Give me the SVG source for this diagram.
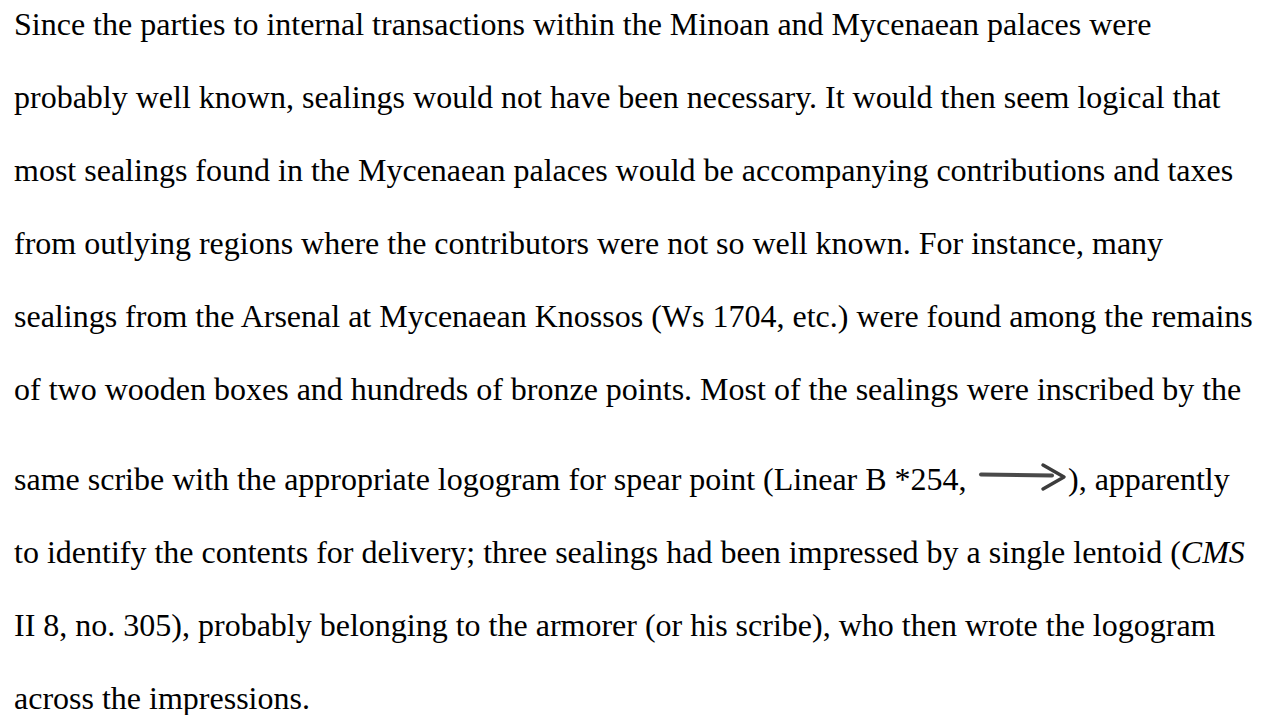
<svg xmlns="http://www.w3.org/2000/svg" width="1266" height="715" viewBox="0 0 1266 715">
<style>
  text { font-family: "Liberation Serif", "Times New Roman", serif; font-size: 32px; fill: #000; }
  .it { font-style: italic; }
  .shaft { fill: none; stroke: #4a4a4a; stroke-width: 4; stroke-linecap: round; }
  .head { fill: none; stroke: #3c3c3c; stroke-width: 3.5; stroke-linecap: round; stroke-linejoin: round; }
</style>
<rect width="1266" height="715" fill="#fff"/>
<g id="paragraph">
  <text x="14" y="35">Since the parties to internal transactions within the Minoan and Mycenaean palaces were</text>
  <text x="14" y="108">probably well known, sealings would not have been necessary. It would then seem logical that</text>
  <text x="14" y="181">most sealings found in the Mycenaean palaces would be accompanying contributions and taxes</text>
  <text x="14" y="254">from outlying regions where the contributors were not so well known. For instance, many</text>
  <text x="14" y="327">sealings from the Arsenal at Mycenaean Knossos (Ws 1704, etc.) were found among the remains</text>
  <text x="14" y="400">of two wooden boxes and hundreds of bronze points. Most of the sealings were inscribed by the</text>
  <text x="14" y="490">same scribe with the appropriate logogram for spear point (Linear B *254,</text>
  <text x="1068" y="490">), apparently</text>
  <text x="14" y="563">to identify the contents for delivery; three sealings had been impressed by a single lentoid (<tspan class="it">CMS</tspan></text>
  <text x="14" y="636">II 8, no. 305), probably belonging to the armorer (or his scribe), who then wrote the logogram</text>
  <text x="14" y="709">across the impressions.</text>
</g>
<g id="logogram-254">
  <path class="shaft" d="M981,474.5 L1052,475.5"/>
  <path class="head" d="M1043,465 L1064,477 L1043,489"/>
</g>
</svg>
